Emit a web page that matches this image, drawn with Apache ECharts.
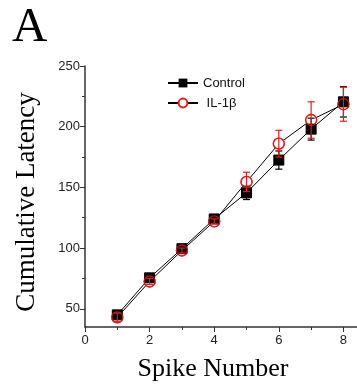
<!DOCTYPE html>
<html>
<head>
<meta charset="utf-8">
<script src="https://cdn.jsdelivr.net/npm/echarts@6/dist/echarts.min.js"></script>
<style>
  html, body { margin: 0; padding: 0; background: #fff; }
  #chart { width: 357px; height: 391px; }
</style>
</head>
<body>
<div id="chart"></div>
<script>
// Cumulative latency per spike, mean ± error
const spikes = [1, 2, 3, 4, 5, 6, 7, 8];
const controlMean = [45, 75.5, 99.5, 124, 145.5, 172.5, 198, 220.5];
const controlErr = [2.5, 2.5, 2, 2, 5.5, 7.5, 9, 12.5];
const il1bMean = [43, 72.5, 98, 122, 154.5, 186, 205.5, 218.5];
const il1bErr = [3.5, 2.5, 2, 2, 8, 11, 15, 14];

const xMajor = [0, 2, 4, 6, 8];
const xMinor = [1, 3, 5, 7];
const yMajor = [50, 100, 150, 200, 250];
const yMinor = [75, 125, 175, 225];

const X_MIN = 0, X_MAX = 8.42, Y_MIN = 35, Y_MAX = 250;
const AXIS_COLOR = '#333';
const RED = '#f01818';

const chart = echarts.init(document.getElementById('chart'), null, { renderer: 'canvas' });

function pairs(xs, ys) { return xs.map((x, i) => [x, ys[i]]); }
function errRows(xs, ys, es) { return xs.map((x, i) => [x, ys[i], es[i]]); }

function errorBarRenderer(color) {
  return function (params, api) {
    const x = api.value(0), y = api.value(1), e = api.value(2);
    const top = api.coord([x, y + e]);
    const bot = api.coord([x, y - e]);
    const cap = 3.5;
    const style = { stroke: color, lineWidth: 1.2 };
    return {
      type: 'group',
      children: [
        { type: 'line', shape: { x1: top[0], y1: top[1], x2: bot[0], y2: bot[1] }, style },
        { type: 'line', shape: { x1: top[0] - cap, y1: top[1], x2: top[0] + cap, y2: top[1] }, style },
        { type: 'line', shape: { x1: bot[0] - cap, y1: bot[1], x2: bot[0] + cap, y2: bot[1] }, style }
      ]
    };
  };
}

const mainLabel = { fontFamily: 'Liberation Sans', fontSize: 13, color: '#222' };

chart.setOption({
  animation: false,
  backgroundColor: '#fff',
  grid: { left: 85, right: 0, top: 66, bottom: 64, containLabel: false },
  xAxis: [
    {
      type: 'value', min: X_MIN, max: X_MAX, position: 'bottom',
      axisLine: { lineStyle: { color: AXIS_COLOR, width: 1.5 } },
      axisTick: { length: 5, customValues: xMajor, lineStyle: { color: AXIS_COLOR } },
      axisLabel: Object.assign({ customValues: xMajor, margin: 7 }, mainLabel),
      splitLine: { show: false }
    },
    {
      type: 'value', min: X_MIN, max: X_MAX, position: 'bottom', offset: 0,
      axisLine: { show: false },
      axisTick: { length: 3, customValues: xMinor, lineStyle: { color: AXIS_COLOR } },
      axisLabel: { show: false },
      splitLine: { show: false }
    }
  ],
  yAxis: [
    {
      type: 'value', min: Y_MIN, max: Y_MAX, position: 'left',
      axisLine: { show: true, lineStyle: { color: AXIS_COLOR, width: 1.5 } },
      axisTick: { show: true, length: 5, customValues: yMajor, lineStyle: { color: AXIS_COLOR } },
      axisLabel: Object.assign({ customValues: yMajor, margin: 5 }, mainLabel),
      splitLine: { show: false }
    },
    {
      type: 'value', min: Y_MIN, max: Y_MAX, position: 'left', offset: 0,
      axisLine: { show: false },
      axisTick: { show: true, length: 3, customValues: yMinor, lineStyle: { color: AXIS_COLOR } },
      axisLabel: { show: false },
      splitLine: { show: false }
    }
  ],
  legend: {
    orient: 'vertical',
    left: 162, top: 71,
    itemWidth: 30, itemHeight: 11, itemGap: 6,
    data: ['Control', 'IL-1β'],
    formatter: name => name === 'IL-1β' ? ' ' + name : name,
    textStyle: { fontFamily: 'Liberation Sans', fontSize: 13, color: '#111', lineHeight: 14 }
  },
  graphic: [
    { type: 'text', left: 12, top: 4, style: { text: 'A', fontFamily: 'Liberation Serif', fontSize: 49, fill: '#000' } },
    { type: 'text', x: 213, y: 369, style: { text: 'Spike Number', fontFamily: 'Liberation Serif', fontSize: 26, fill: '#000', align: 'center', verticalAlign: 'middle' } },
    { type: 'text', x: 27, y: 202, rotation: Math.PI / 2, style: { text: 'Cumulative Latency', fontFamily: 'Liberation Serif', fontSize: 27, fill: '#000', align: 'center', verticalAlign: 'middle' } }
  ],
  series: [
    {
      name: 'IL-1β', type: 'line', data: pairs(spikes, il1bMean),
      symbol: 'circle', symbolSize: 11,
      lineStyle: { color: '#000', width: 1 },
      itemStyle: { color: '#fff', borderColor: RED, borderWidth: 1.3 },
      z: 3
    },
    {
      name: 'Control', type: 'line', data: pairs(spikes, controlMean),
      symbol: 'rect', symbolSize: 10,
      lineStyle: { color: '#000', width: 1 },
      itemStyle: { color: '#000', borderColor: '#000' },
      z: 4
    },
    {
      type: 'custom', name: 'controlErr', renderItem: errorBarRenderer('#000'),
      data: errRows(spikes, controlMean, controlErr), z: 5,
      encode: { x: 0, y: [1] }
    },
    {
      type: 'custom', name: 'il1bErr', renderItem: errorBarRenderer(RED),
      data: errRows(spikes, il1bMean, il1bErr), z: 6,
      encode: { x: 0, y: [1] }
    },
    {
      type: 'scatter', name: 'il1bRing', data: pairs(spikes, il1bMean),
      symbol: 'circle', symbolSize: 11,
      itemStyle: { color: 'rgba(0,0,0,0)', borderColor: RED, borderWidth: 1.3 },
      z: 7, silent: true
    }
  ]
});
</script>
</body>
</html>
